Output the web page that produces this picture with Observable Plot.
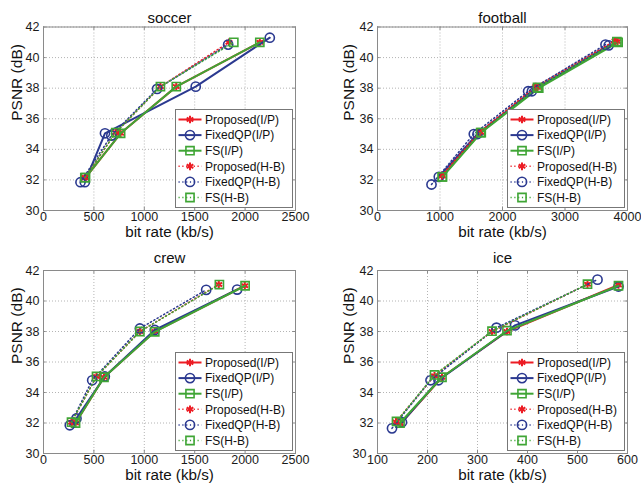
<!DOCTYPE html>
<html><head><meta charset="utf-8">
<script src="https://cdn.jsdelivr.net/npm/d3@7"></script>
<script src="https://cdn.jsdelivr.net/npm/@observablehq/plot@0.6"></script>
<style>
body{margin:0;background:#fff;}
#wrap{position:relative;width:641px;height:487px;background:#fff;overflow:hidden;font-family:"Liberation Sans",Arial,sans-serif;}
.panel{position:absolute;}
.legend{position:absolute;}
</style></head><body><div id="wrap"></div>
<script>
// ---- series definitions ----
const seriesNames = ["Proposed(I/P)","FixedQP(I/P)","FS(I/P)","Proposed(H-B)","FixedQP(H-B)","FS(H-B)"];

// ---- data: bit rate (kb/s) and PSNR (dB), one row per series ----
const soccerRate = [[417,765,1317,2146],[410,610,1510,2245],[417,765,1317,2146],[410,717,1160,1840],[367,673,1127,1832],[410,717,1160,1888]];
const soccerPSNR = [[32.15,35.05,38.1,41.0],[31.85,35.05,38.1,41.3],[32.15,35.05,38.1,41.0],[32.15,35.1,38.1,41.0],[31.85,34.9,37.95,40.85],[32.15,35.1,38.1,41.0]];

const footballRate = [[1035,1650,2560,3840],[981,1600,2470,3700],[1040,1660,2580,3850],[1030,1637,2530,3800],[864,1541,2410,3648],[1035,1650,2560,3830]];
const footballPSNR = [[32.25,35.1,38.05,41.05],[32.2,35.0,37.8,40.8],[32.2,35.1,38.0,41.0],[32.3,35.15,38.1,41.1],[31.7,35.0,37.8,40.85],[32.2,35.1,38.05,41.05]];

const crewRate = [[318,600,1104,1997],[327,608,1104,1921],[318,600,1104,2000],[278,526,956,1739],[261,483,956,1614],[278,526,956,1745]];
const crewPSNR = [[32.0,35.0,38.0,41.0],[32.3,35.05,38.1,40.75],[32.0,35.0,37.98,41.0],[32.05,35.05,38.0,41.08],[31.85,34.8,38.2,40.73],[32.05,35.05,38.0,41.08]];

const iceRate = [[146,229,359,582],[149,222,375,582],[145,229,359,582],[137,214,329,520],[129,206,338,540],[138,214,329,520]];
const icePSNR = [[31.95,35.0,38.0,41.05],[32.05,34.8,38.4,40.95],[32.0,35.0,38.05,41.0],[32.07,35.1,38.0,41.1],[31.65,34.8,38.25,41.4],[32.1,35.15,38.02,41.1]];

// ---- axes ----
const panelTitles = ["soccer","football","crew","ice"];
const xDomains = [[0,2500],[0,4000],[0,2500],[100,600]];
const xTicks = [[0,500,1000,1500,2000,2500],[0,1000,2000,3000,4000],[0,500,1000,1500,2000,2500],[100,200,300,400,500,600]];
const yDomain = [30,42];
const yTicks = [30,32,34,36,38,40,42];
const xLabel = "bit rate (kb/s)";
const yLabel = "PSNR (dB)";

// ---- styling ----
const RED = "#ec1c24", BLUE = "#2b3990", GREEN = "#3fa535";
const sColor = [RED,BLUE,GREEN,RED,BLUE,GREEN];
const sSymbol = ["asterisk","circle","square","asterisk","circle","square"];
const sR = [3.6,4.6,4.6,3.6,4.6,4.6];
const sDash = [null,null,null,"1.2,2.6","1.2,2.6","1.2,2.6"];
const sWidth = [2,2,2,1.5,1.5,1.5];

const panelRates = [soccerRate, footballRate, crewRate, iceRate];
const panelPSNR = [soccerPSNR, footballPSNR, crewPSNR, icePSNR];

const layout = [
  {left:0,   top:0,   w:320, h:240, ml:43, mr:25, mt:26.5, mb:30, ylabDx:-26.5, y0pad:4},
  {left:320, top:0,   w:321, h:240, ml:57, mr:14, mt:26.5, mb:30, ylabDx:-28, y0pad:4},
  {left:0,   top:240, w:320, h:247, ml:43, mr:25, mt:30, mb:34, ylabDx:-26.5, y0pad:4},
  {left:320, top:240, w:321, h:247, ml:57, mr:14, mt:30, mb:34, ylabDx:-28, y0pad:11}
];

const wrap = document.getElementById("wrap");
const FONT = "'Liberation Sans', Arial, sans-serif";
const AX = "#8a8a8a";
const GRID = "#b4b4b4";

panelTitles.forEach((title, p) => {
  const L = layout[p];
  const rows = [];
  panelRates[p].forEach((rates, s) => rates.forEach((r, k) => rows.push({s, rate: r, psnr: panelPSNR[p][s][k]})));
  const xd = xDomains[p];
  const xspan = xd[1] - xd[0];
  const ySpanTick = 0.22;
  const xSpanTick = xspan * 0.011;
  const marks = [
    Plot.gridX(xTicks[p], {stroke: GRID, strokeOpacity: 1, strokeDasharray: "1,2", strokeWidth: 1}),
    Plot.gridY(yTicks, {stroke: GRID, strokeOpacity: 1, strokeDasharray: "1,2", strokeWidth: 1}),
    Plot.ruleX(xTicks[p], {y1: yDomain[0], y2: yDomain[0] + ySpanTick, stroke: AX}),
    Plot.ruleX(xTicks[p], {y1: yDomain[1], y2: yDomain[1] - ySpanTick, stroke: AX}),
    Plot.ruleY(yTicks, {x1: xd[0], x2: xd[0] + xSpanTick, stroke: AX}),
    Plot.ruleY(yTicks, {x1: xd[1], x2: xd[1] - xSpanTick, stroke: AX}),
    Plot.frame({stroke: AX, strokeWidth: 1}),
    Plot.axisX(xTicks[p], {tickSize: 0, tickPadding: 2, tickFormat: d => String(d), fontSize: 12.5, fill: "#1a1a1a"}),
    Plot.axisY(yTicks.slice(1), {tickSize: 0, tickPadding: 4, tickFormat: d => String(d), fontSize: 12.5, fill: "#1a1a1a"}),
    Plot.axisY(yTicks.slice(0, 1), {tickSize: 0, tickPadding: L.y0pad, tickFormat: d => String(d), fontSize: 12.5, fill: "#1a1a1a"}),
    Plot.text([title], {frameAnchor: "top", dy: -(L.mt - 12), fontSize: 15, fill: "#111"}),
    Plot.text([xLabel], {frameAnchor: "bottom", dy: 26.5, fontSize: 15.2, fill: "#111"}),
    Plot.text([yLabel], {frameAnchor: "left", rotate: -90, dx: L.ylabDx, dy: 2, fontSize: 15.5, fill: "#111"})
  ];
  seriesNames.forEach((name, s) => {
    const sub = rows.filter(d => d.s === s);
    marks.push(Plot.line(sub, {x: "rate", y: "psnr", stroke: sColor[s], strokeWidth: sWidth[s], strokeDasharray: sDash[s]}));
    marks.push(Plot.dot(sub, {x: "rate", y: "psnr", symbol: sSymbol[s], r: sR[s], stroke: sColor[s], fill: "none", strokeWidth: s % 3 === 0 ? 2 : 1.6}));
  });
  const chart = Plot.plot({
    width: L.w, height: L.h,
    marginLeft: L.ml, marginRight: L.mr, marginTop: L.mt, marginBottom: L.mb,
    style: {fontFamily: FONT, fontSize: "12.5px", color: "#1a1a1a", background: "transparent", overflow: "visible"},
    x: {domain: xd, label: null},
    y: {domain: yDomain, label: null},
    marks
  });
  const div = document.createElement("div");
  div.className = "panel";
  div.style.left = L.left + "px";
  div.style.top = L.top + "px";
  div.appendChild(chart);
  wrap.appendChild(div);

  // legend (inside plot area, lower right)
  const lw = 118, lh = 99;
  const frameRight = L.left + L.w - L.mr;
  const frameBottom = L.top + L.h - L.mb;
  const lg = d3.create("svg").attr("width", lw).attr("height", lh).attr("class", "legend")
    .style("left", (frameRight - 2 - lw) + "px").style("top", (frameBottom - 2 - lh) + "px");
  lg.append("rect").attr("x", 0.5).attr("y", 0.5).attr("width", lw - 1).attr("height", lh - 1)
    .attr("fill", "#fff").attr("stroke", "#777");
  seriesNames.forEach((name, s) => {
    const cy = 10.5 + s * 15.6;
    const g = lg.append("g");
    g.append("line").attr("x1", 3.5).attr("x2", 26.5).attr("y1", cy).attr("y2", cy)
      .attr("stroke", sColor[s]).attr("stroke-width", sWidth[s]).attr("stroke-dasharray", sDash[s]);
    const sym = {asterisk: d3.symbolAsterisk, circle: d3.symbolCircle, square: d3.symbolSquare}[sSymbol[s]];
    g.append("path").attr("transform", `translate(15,${cy})`)
      .attr("d", d3.symbol(sym, Math.PI * sR[s] * sR[s])())
      .attr("fill", "none").attr("stroke", sColor[s]).attr("stroke-width", s % 3 === 0 ? 2 : 1.6);
    g.append("text").attr("x", 30).attr("y", cy).attr("dy", "0.35em")
      .attr("font-family", FONT).attr("font-size", 12).attr("fill", "#111").text(name);
  });
  wrap.appendChild(lg.node());
});
</script>
</body></html>
